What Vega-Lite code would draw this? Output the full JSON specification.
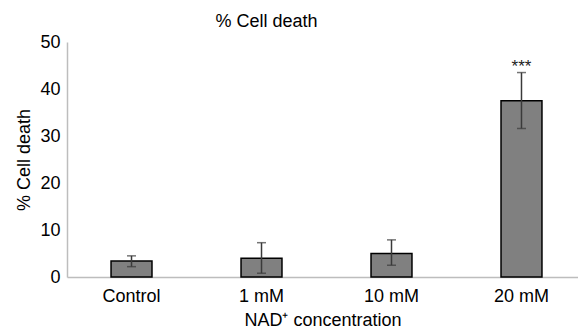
{
  "$schema": "https://vega.github.io/schema/vega-lite/v6.json",
  "width": 511,
  "height": 235,
  "autosize": {"type": "none"},
  "padding": {"left": 67, "top": 42, "right": 0, "bottom": 54},
  "background": "white",
  "config": {
    "view": {"stroke": null},
    "font": "Liberation Sans",
    "axis": {"labelFont": "Liberation Sans", "titleFont": "Liberation Sans", "labelColor": "#000", "titleColor": "#000", "titleFontWeight": "normal"}
  },
  "title": {"text": "% Cell death", "fontSize": 18, "fontWeight": "normal", "color": "#000", "anchor": "middle", "dx": -56, "offset": 2, "font": "Liberation Sans"},
  "data": {
    "values": [
      {"cat": "Control", "value": 3.4, "lo": 2.2, "hi": 4.5, "sig": ""},
      {"cat": "1 mM", "value": 4.0, "lo": 0.8, "hi": 7.3, "sig": ""},
      {"cat": "10 mM", "value": 5.0, "lo": 2.5, "hi": 7.9, "sig": ""},
      {"cat": "20 mM", "value": 37.5, "lo": 31.6, "hi": 43.5, "sig": "***"}
    ]
  },
  "encoding": {
    "x": {
      "field": "cat", "type": "nominal", "sort": null,
      "scale": {"paddingInner": 0.685, "paddingOuter": 0.308, "align": 0.55},
      "axis": {"title": "NAD⁺ concentration", "labelAngle": 0, "labelFontSize": 18, "titleFontSize": 18, "ticks": false, "domainColor": "#bdbdbd", "domainWidth": 1.5, "labelPadding": 10, "titlePadding": 6}
    }
  },
  "layer": [
    {
      "mark": {"type": "bar", "color": "#808080", "stroke": "#000", "strokeWidth": 1.5},
      "encoding": {
        "y": {
          "field": "value", "type": "quantitative",
          "scale": {"domain": [0, 50]},
          "axis": {"title": "% Cell death", "values": [0, 10, 20, 30, 40, 50], "labelFontSize": 18, "titleFontSize": 18, "ticks": false, "grid": false, "domainColor": "#bdbdbd", "domainWidth": 1.5, "labelPadding": 7, "titlePadding": 6}
        }
      }
    },
    {
      "mark": {"type": "rule", "color": "#3a3a3a", "strokeWidth": 1.5},
      "encoding": {"y": {"field": "lo", "type": "quantitative"}, "y2": {"field": "hi"}}
    },
    {
      "mark": {"type": "tick", "color": "#3a3a3a", "size": 9, "thickness": 1.5, "orient": "horizontal"},
      "encoding": {"y": {"field": "lo", "type": "quantitative"}}
    },
    {
      "mark": {"type": "tick", "color": "#3a3a3a", "size": 9, "thickness": 1.5, "orient": "horizontal"},
      "encoding": {"y": {"field": "hi", "type": "quantitative"}}
    },
    {
      "mark": {"type": "text", "fontSize": 17, "color": "#222", "baseline": "alphabetic", "dy": -1, "font": "Liberation Sans"},
      "encoding": {"y": {"field": "hi", "type": "quantitative"}, "text": {"field": "sig"}}
    }
  ]
}
